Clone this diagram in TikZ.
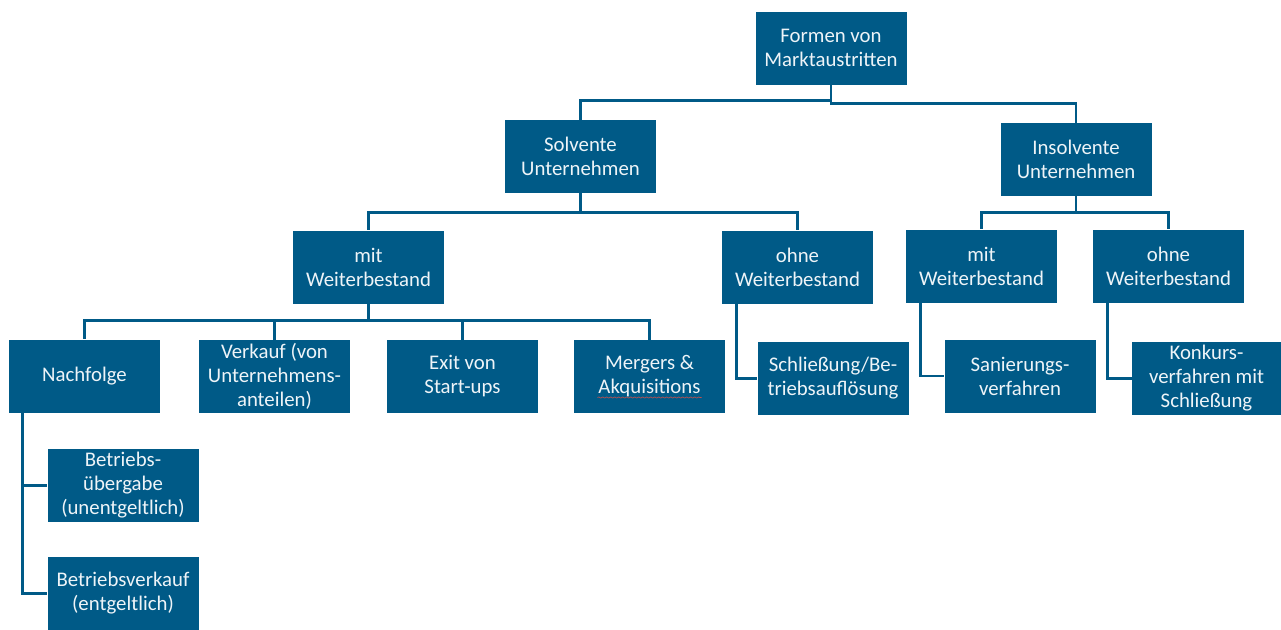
\documentclass[tikz,border=0pt]{standalone}
\usepackage{fontspec}
\setmainfont{Carlito}
\usetikzlibrary{calc,decorations.pathmorphing}
\definecolor{boxblue}{HTML}{005A87}
\definecolor{boxtext}{HTML}{EEF4F8}
\definecolor{spellred}{HTML}{C0504D}
\begin{document}
\begin{tikzpicture}[x=0.75pt,y=-0.75pt,
  box/.style={fill=boxblue, text=boxtext, align=center, minimum width=113.25pt,
    minimum height=54.75pt, inner sep=0pt, font=\fontsize{15.6}{18}\selectfont},
  link/.style={draw=boxblue, line width=2pt}]
\useasboundingbox (0,0) rectangle (1281,629);
\node[box] (f) at (831,48) {Formen von\\Marktaustritten};
\node[box] (sol) at (580.5,156.5) {Solvente\\Unternehmen};
\node[box] (ins) at (1076,159.5) {Insolvente\\Unternehmen};
\node[box] (mitL) at (368.5,267) {mit\\Weiterbestand};
\node[box] (ohneL) at (797.5,267) {ohne\\Weiterbestand};
\node[box] (mitR) at (981.5,266) {mit\\Weiterbestand};
\node[box] (ohneR) at (1168.5,266) {ohne\\Weiterbestand};
\node[box] (nach) at (84.5,376) {Nachfolge};
\node[box] (verk) at (274.5,376.5) {Verkauf (von\\Unternehmens-\\anteilen)};
\node[box] (exit) at (462.5,376.5) {Exit von\\Start-ups};
\node[box] (merg) at (649.5,376.5) {Mergers \&\\Akquisitions};
\node[box] (schl) at (833,378.5) {Schließung/Be-\\triebsauflösung};
\node[box] (san) at (1020,376) {Sanierungs-\\verfahren};
\node[box, minimum width=111.75pt] (konk) at (1206.5,378.5) {Konkurs-\\verfahren mit\\Schließung};
\node[box] (ueb) at (123,485.5) {Betriebs-\\übergabe\\(unentgeltlich)};
\node[box] (bv) at (123,593.5) {Betriebsverkauf\\(entgeltlich)};
% connectors
\draw[link] (f.south) -- ++(0,16) -| (sol.north);
\draw[link] (f.south) -- ++(0,19) -| (ins.north);
\draw[link] (sol.south) -- ++(0,19) -| (mitL.north);
\draw[link] (sol.south) -- ++(0,19) -| (ohneL.north);
\draw[link] (ins.south) -- ++(0,16) -| (mitR.north);
\draw[link] (ins.south) -- ++(0,16) -| (ohneR.north);
\draw[link] (mitL.south) -- ++(0,17) -| (nach.north);
\draw[link] (mitL.south) -- ++(0,17) -| (verk.north);
\draw[link] (mitL.south) -- ++(0,17) -| (exit.north);
\draw[link] (mitL.south) -- ++(0,17) -| (merg.north);
\draw[link] ($(ohneL.south west)+(15,0)$) |- (schl.west);
\draw[link] ($(mitR.south west)+(15,0)$) |- (san.west);
\draw[link] ($(ohneR.south west)+(15,0)$) |- (konk.west);
\draw[link] ($(nach.south west)+(14,0)$) |- (ueb.west);
\draw[link] ($(nach.south west)+(14,0)$) |- (bv.west);
% spell-check underline
\draw[spellred, line width=0.5pt, decorate, decoration={snake, amplitude=0.4pt, segment length=3pt}]
  ($(merg.center)+(-52,21)$) -- ($(merg.center)+(52,21)$);
\end{tikzpicture}
\end{document}
